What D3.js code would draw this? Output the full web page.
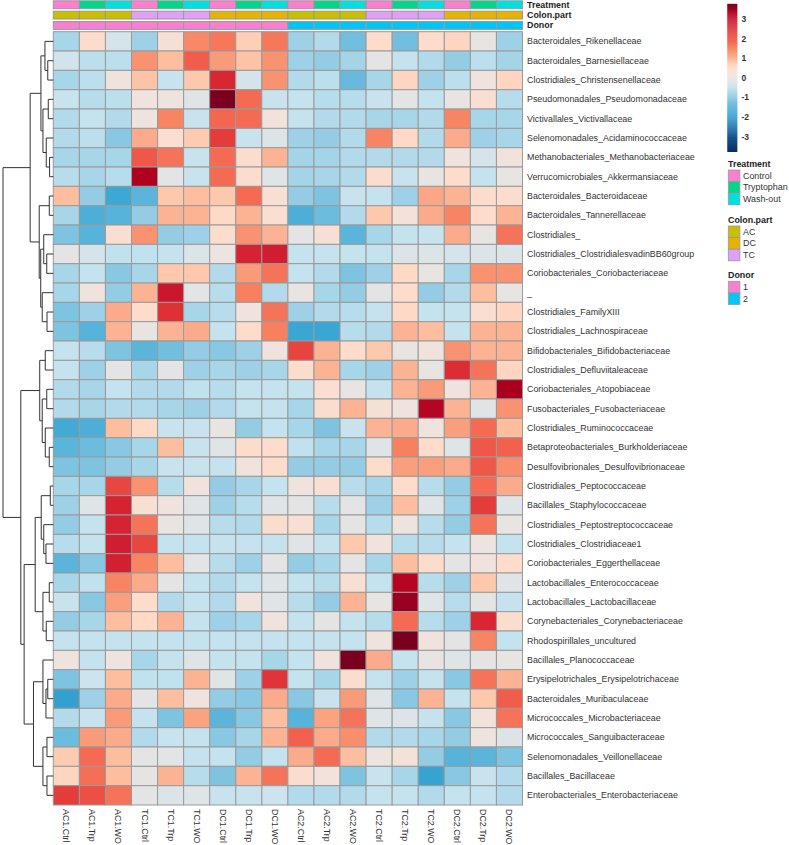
<!DOCTYPE html>
<html>
<head>
<meta charset="utf-8">
<script src="https://cdn.jsdelivr.net/npm/d3@7"></script>
<style>
  html, body { margin: 0; padding: 0; background: #fff; }
  svg { display: block; }
  text { font-family: "Liberation Sans", Arial, Helvetica, sans-serif; fill: #333; }
</style>
</head>
<body>
<svg id="chart" width="789" height="845"></svg>
<script>
// ---------------- DATA ----------------
const columns = ["AC1.Ctrl","AC1.Trp","AC1.WO","TC1.Ctrl","TC1.Trp","TC1.WO","DC1.Ctrl","DC1.Trp","DC1.WO",
                 "AC2.Ctrl","AC2.Trp","AC2.WO","TC2.Ctrl","TC2.Trp","TC2.WO","DC2.Ctrl","DC2.Trp","DC2.WO"];
const treatment = ["Control","Tryptophan","Wash-out","Control","Tryptophan","Wash-out","Control","Tryptophan","Wash-out",
                   "Control","Tryptophan","Wash-out","Control","Tryptophan","Wash-out","Control","Tryptophan","Wash-out"];
const colonPart = ["AC","AC","AC","TC","TC","TC","DC","DC","DC","AC","AC","AC","TC","TC","TC","DC","DC","DC"];
const donor = ["1","1","1","1","1","1","1","1","1","2","2","2","2","2","2","2","2","2"];

const rows = [
  "Bacteroidales_Rikenellaceae","Bacteroidales_Barnesiellaceae","Clostridiales_Christensenellaceae",
  "Pseudomonadales_Pseudomonadaceae","Victivallales_Victivallaceae","Selenomonadales_Acidaminococcaceae",
  "Methanobacteriales_Methanobacteriaceae","Verrucomicrobiales_Akkermansiaceae","Bacteroidales_Bacteroidaceae",
  "Bacteroidales_Tannerellaceae","Clostridiales_","Clostridiales_ClostridialesvadinBB60group",
  "Coriobacteriales_Coriobacteriaceae","_","Clostridiales_FamilyXIII","Clostridiales_Lachnospiraceae",
  "Bifidobacteriales_Bifidobacteriaceae","Clostridiales_Defluviitaleaceae","Coriobacteriales_Atopobiaceae",
  "Fusobacteriales_Fusobacteriaceae","Clostridiales_Ruminococcaceae","Betaproteobacteriales_Burkholderiaceae",
  "Desulfovibrionales_Desulfovibrionaceae","Clostridiales_Peptococcaceae","Bacillales_Staphylococcaceae",
  "Clostridiales_Peptostreptococcaceae","Clostridiales_Clostridiaceae1","Coriobacteriales_Eggerthellaceae",
  "Lactobacillales_Enterococcaceae","Lactobacillales_Lactobacillaceae","Corynebacteriales_Corynebacteriaceae",
  "Rhodospirillales_uncultured","Bacillales_Planococcaceae","Erysipelotrichales_Erysipelotrichaceae",
  "Bacteroidales_Muribaculaceae","Micrococcales_Microbacteriaceae","Micrococcales_Sanguibacteraceae",
  "Selenomonadales_Veillonellaceae","Bacillales_Bacillaceae","Enterobacteriales_Enterobacteriaceae"
];

// z-scores, one row per taxon, columns in the order above
const values = [
  [-0.8, 0.5,-0.3,-0.9, 0.3, 1.5, 1.7, 0.7, 1.7,  -0.9,-0.7,-1.3, 0.5,-1.3, 0.5, 0.6, 0.0,-0.9],
  [-0.35,-0.6,-0.6, 1.4, 0.9, 2.0, 1.3, 0.85,1.4, -0.9,-1.0,-0.85,-0.05,-0.5,-0.7,-1.0,-0.6,-0.85],
  [-0.8,-0.6, 0.15,0.85,-0.45,0.8, 2.7,-0.3, 1.4, -0.7,-0.6,-1.4,-0.8, 0.6,-0.9,-0.6, 0.15,0.6],
  [-0.45,-0.65,-0.6,0.15,0.1,-0.15,3.77,1.85,-0.45, -0.5,-0.65,-0.65,-0.45,-0.05,-0.5,0.0,0.4,-0.65],
  [-0.7,-0.5,-0.7, 0.15,1.55,-0.45,1.9, 1.85,0.2, -0.5,-0.7,-0.7,-0.8,-0.8,-0.7, 1.55,-0.8,-0.8],
  [-0.7,-0.6,-1.1, 1.1, 0.4, 0.75,2.4,-0.45,-0.2, -0.9,-1.0,-0.7, 1.55,0.55,-0.7, 1.1,-0.9,-0.8],
  [-0.8,-0.8,-0.8, 2.05,1.75,-0.45,1.85,0.45,1.0, -0.85,-0.85,-0.7,-0.7,-0.7,-0.7, 0.15,-0.3,0.2],
  [-0.65,-0.8,-0.65,3.4,-0.1,-0.45,1.85,0.45,-0.15, -0.85,-0.8,-0.7, 0.45,-0.45,0.0, 0.5,-0.5,0.0],
  [0.9,-1.0,-1.8,-1.5, 0.8, 0.9, 0.8, 1.85,0.35, -1.0,-1.2,-0.45,-0.5,-0.9, 1.15,1.0, 0.45,0.45],
  [-0.8,-1.65,-1.55,-1.0,1.0,1.0, 0.55,1.0, 0.4, -1.65,-1.35,-0.7,0.8, 0.25,1.1, 1.55,0.5, 1.0],
  [-1.2,-1.55,0.4, 1.4,-1.0,-0.9, 0.45,1.4, 1.0, -0.05,0.3,-1.5,-0.8,-0.5,-0.45, 1.1, 0.0, 1.75],
  [-0.05,-0.3,-0.55,-0.55,-0.5,-0.2,0.1,2.75,2.85, -0.5,-0.5,-0.5,-0.5,-0.2,-0.2,-0.3,-0.2,-0.2],
  [-0.8,-0.5,-1.1,-0.8, 0.8, 0.8,-0.7, 1.3, 1.75, -0.5,-0.7,-1.2,-0.9, 0.55,0.0,-0.8, 1.4, 1.4],
  [-0.8, 0.15,-1.0,1.0, 2.95,-0.1,-0.65,1.6,-0.7, 0.0,-0.8,-1.0,-0.05,0.5,-1.0,-0.7, 0.9, 0.0],
  [-1.2,-0.9, 1.1, 0.5, 2.55,-0.8,-0.65,0.15,1.75, -0.9,-0.7,-0.65,-0.5,0.55,-0.5,-0.5,0.4, 0.6],
  [-1.2,-1.55,1.0, 0.0, 1.0, 1.1,-0.5, 0.5, 1.6, -1.85,-1.85,-0.65,-0.7,1.0,0.9,-0.5, 1.0, 1.0],
  [-0.5,-0.65,-1.2,-1.5,-1.3,-1.0,-1.1,-0.9,0.15, 2.3, 1.0, 0.5, 0.8, 0.0, 0.15,1.4, 1.0, 1.0],
  [-0.5,-0.9,-0.05,-0.8,-0.1,-0.9,-0.8,-0.9,-0.8, 0.45,1.0,-0.8,-0.9, 1.0, 0.0, 2.6, 1.75,0.6],
  [-0.7,-0.8,-0.5,-0.7,-0.7,-0.55,-0.65,-0.5,-0.5, -0.5,0.4, 0.0,-0.5, 1.0, 1.3, 0.15,1.0, 3.45],
  [-0.7,-0.8,-0.7,-0.7,-0.8,-0.9,-0.7,-0.5,-0.5, -0.8,0.45,1.0, 0.3, 0.15,3.3, 1.0,-0.15,1.4],
  [-1.75,-1.65,0.9,0.55,-0.45,-0.45,0.0,-1.0,-0.5, -0.8,-1.2,-0.45,1.0, 1.1, 0.15,1.25,1.85,0.9],
  [-1.5,-1.35,-1.1,-0.8,0.9,-0.45,-0.15,0.5, 0.5, -0.55,-0.8,-0.8,-0.15,1.6,0.5,-0.15,2.05,1.95],
  [-1.2,-1.2,-1.0,-0.8,-0.45,-0.45,-0.5,0.15,0.5, -1.0,-1.0,-1.0, 0.5, 1.25,1.25,1.1, 2.05,1.45],
  [-0.8,-0.8, 2.25,1.4,-0.65,0.15,-1.0,-0.8,-0.5, 0.15,0.35,-0.65,-0.8,0.5,-0.65,-1.0, 1.85,1.1],
  [-0.9,-0.15,2.75,0.35,0.15,-0.15,-0.9,-0.65,-0.15, -0.05,-0.65,-0.05,-0.9,0.9,-0.15,-0.9,2.4,-0.15],
  [-1.0,-0.5, 2.75,1.75,0.0,-0.15,-0.65,-0.7,0.45, 0.35,-0.8,-0.05,-0.65,0.1,-0.65,-1.0,1.75,0.0],
  [-0.65,-0.5,2.85,2.25,-0.5,-0.5,-0.5,-0.5,-0.5, -0.15,-0.5,0.8, 0.15,-0.65,-0.65,-0.5,0.1,-0.5],
  [-1.5,-1.1, 2.8, 1.55,0.9,-0.1,-0.65,-0.9,-0.05, -1.0,-0.8,-0.05,-0.8,0.9,0.5,-0.05,0.15,0.5],
  [-0.8,-0.55,1.55,1.1,-0.05,-0.5,-0.7,-0.5,-0.15, -0.5,-0.65,0.35,-0.5,3.3,-0.65,-0.9,0.8,-0.15],
  [-0.45,-1.1,1.25,0.5,-0.7,-0.5,-0.7, 0.15,-0.15, -0.65,-1.0,1.0, 0.0, 3.55,-0.15,-0.65,-0.05,-0.5],
  [-1.0,-0.8, 0.9, 0.55,1.0,-0.5,-0.9,-0.8, 0.15, -0.5,-0.05,-0.5,-0.65,1.85,-0.65,-0.9,2.7,0.45],
  [-0.5,-0.5,-0.5,-0.5,-0.5,-0.5,-0.5,-0.5,-0.5, -0.5,-0.5,-0.5, 0.15,3.77,0.15,-0.05,1.55,-0.5],
  [0.15,-0.5, 0.1,-0.8,-0.5,-0.15,-0.5,-0.5,-0.8, -0.5,0.15,3.77, 1.1,-0.5, 0.0,-0.15,-0.05,0.0],
  [-1.2,-0.4, 0.9,-0.55,-0.55,1.0,-0.15,-0.9,2.5, -0.5,-0.8,0.45,-0.5,-0.9,-0.5,-1.1,1.75,1.0],
  [-1.95,-0.9,1.1,-0.05,0.9, 0.15,-1.0,-1.1,1.1, -1.1,-0.45,1.3,-0.15,-1.1,1.0,-0.5, 0.8, 2.0],
  [-0.7,-0.45,1.3,-0.5,-1.2, 1.2,-1.5,-1.1, 0.9, -1.55,1.2, 1.75,-0.15,-0.2,-0.5,-1.1,0.2, 1.75],
  [-1.35,1.3, 1.1,-0.7,-0.45,-0.5,-1.1,-0.8, 1.0, 1.95,1.1, 1.45,-0.7,-0.7,-0.8,-1.0, 0.1,-0.2],
  [0.75,1.85, 0.9,-0.05,-0.1,-0.5,-0.5,-1.0,-0.5, 1.1, 1.85,0.9, 0.1, 0.25,-1.0,-1.55,-1.5,-1.2],
  [0.6, 1.8, 0.9,-0.05,1.0,-0.65,-1.2, 1.0, 1.75, 0.45,0.2,-1.2,-0.45,-0.8,-1.9,-1.1,-0.45,-0.7],
  [2.4, 2.15,1.75,-0.05,-0.2,-0.15,-0.45,-0.45,-0.4, -0.7,-0.7,-0.7,-0.5,-0.5,-0.7,-0.5,-0.5,-0.7]
];

// row dendrogram: [mergeHeight, left, right]; leaves are row indices
const rowTree =
  [10,
    [4.6,
      [2.46, [1.66, 0, [1.1, 1, 2]], [2.06, [1.0, 3, 4], [1.4, 5, [0.74, 6, 7]]]],
      [2.8, [0.8, 8, 9], [2.5, [1.9, 10, [1.3, 11, 12]], [2.2, 13, [1.25, 14, 15]]]]
    ],
    [6.46,
      [2.7, [1.6, 16, 17], [2.2, [1.3, 18, 19], [1.6, 20, [0.8, 21, 22]]]],
      [5.8,
        [3.6, [2.4, [0.6, 23, 24], [1.9, 25, [1.46, 26, 27]]], [2.06, [0.8, 28, 29], [1.4, 30, 31]]],
        [3.94, [2.06, 32, [1.46, [1.1, 33, 34], 35]], [2.06, [1.26, 36, 37], [1.26, 38, 39]]]
      ]
    ]
  ];

const treatmentLevels = ["Control","Tryptophan","Wash-out"];
const treatmentColors = ["#FA7FD0","#00D68C","#00E0E0"];
const colonLevels = ["AC","DC","TC"];
const colonColors = ["#C9BF00","#E8B300","#E0A0F8"];
const donorLevels = ["1","2"];
const donorColors = ["#FA7FD0","#00C6F8"];

const legendTicks = [3, 2, 1, 0, -1, -2, -3];
const colorStops = [-3.77,-2.6,-1.9,-1.5,-1.2,-1.0,-0.8,-0.5,-0.2,0,0.2,0.5,0.8,1.0,1.3,1.6,1.9,2.2,2.6,3.0,3.4,3.77];
const colorRange = ["#0A2D5E","#1E6AA8","#35A4D3","#5BB5DB","#7EC3E0","#94CCE4","#A8D6E9","#C5E3EF","#DCE4E8","#E8E4E2",
                    "#F2E2DC","#FDDCCB","#FDC8AC","#FCB394","#F99B78","#F7805F","#F36650","#EA4A42","#DD2C34","#C8142C","#B0001F","#7A0020"];

// ---------------- DRAW ----------------
const svg = d3.select("#chart");
const FONT = 8.9;
const borderCol = "#9a9a9a";

const x = d3.scaleBand().domain(d3.range(columns.length)).range([53.3, 522.5]);
const y = d3.scaleBand().domain(d3.range(rows.length)).range([31.7, 805]);
const color = d3.scaleLinear().domain(colorStops).range(colorRange).clamp(true);

// heatmap cells
const cells = [];
values.forEach((r, i) => r.forEach((v, j) => cells.push({i, j, v})));
svg.append("g").selectAll("rect").data(cells).join("rect")
  .attr("x", d => x(d.j)).attr("y", d => y(d.i))
  .attr("width", x.bandwidth()).attr("height", y.bandwidth())
  .attr("fill", d => color(d.v))
  .attr("stroke", borderCol).attr("stroke-width", 1);

// annotation bars
const annY = d3.scaleBand().domain(["Treatment","Colon.part","Donor"]).range([0.6, 29.6]).paddingInner(0.24).paddingOuter(0.02);
const tScale = d3.scaleOrdinal().domain(treatmentLevels).range(treatmentColors);
const cScale = d3.scaleOrdinal().domain(colonLevels).range(colonColors);
const dScale = d3.scaleOrdinal().domain(donorLevels).range(donorColors);
const annots = [
  {name: "Treatment", vals: treatment, sc: tScale},
  {name: "Colon.part", vals: colonPart, sc: cScale},
  {name: "Donor", vals: donor, sc: dScale}
];
annots.forEach(a => {
  svg.append("g").selectAll("rect").data(a.vals).join("rect")
    .attr("x", (d, j) => x(j)).attr("y", annY(a.name))
    .attr("width", x.bandwidth()).attr("height", annY.bandwidth())
    .attr("fill", d => a.sc(d)).attr("stroke", borderCol).attr("stroke-width", 1);
  svg.append("text").attr("x", 527).attr("y", annY(a.name) + annY.bandwidth() / 2)
    .attr("dominant-baseline", "central").attr("font-size", FONT).attr("font-weight", "bold")
    .style("fill", "#222").text(a.name);
});

// row labels
svg.append("g").selectAll("text").data(rows).join("text")
  .attr("x", 527).attr("y", (d, i) => y(i) + y.bandwidth() / 2)
  .attr("dominant-baseline", "central").attr("font-size", FONT)
  .text(d => d);

// column labels
svg.append("g").selectAll("text").data(columns).join("text")
  .attr("transform", (d, j) => `translate(${x(j) + x.bandwidth() / 2},809) rotate(90)`)
  .attr("dominant-baseline", "central").attr("font-size", FONT)
  .text(d => d);

// dendrogram
const hx = d3.scaleLinear().domain([0, 10]).range([53.3, 3]);
const root = d3.hierarchy(rowTree, d => Array.isArray(d) ? d.slice(1) : null);
root.eachAfter(n => {
  if (n.children) {
    n.py = d3.mean(n.children, c => c.py);
    n.px = hx(n.data[0]);
  } else {
    n.py = y(n.data) + y.bandwidth() / 2;
    n.px = hx(0);
  }
});
const dg = svg.append("g").attr("fill", "none").attr("stroke", "#333").attr("stroke-width", 1);
root.each(n => {
  if (!n.children) return;
  const ys = n.children.map(c => c.py);
  dg.append("line").attr("x1", n.px).attr("x2", n.px).attr("y1", d3.min(ys)).attr("y2", d3.max(ys));
  n.children.forEach(c => {
    dg.append("line").attr("x1", n.px).attr("x2", c.px).attr("y1", c.py).attr("y2", c.py);
  });
});

// colour legend
const ly = d3.scaleLinear().domain([-3.77, 3.77]).range([151.7, 4]);
const steps = d3.range(-3.77, 3.77, 0.05);
svg.append("g").selectAll("rect").data(steps).join("rect")
  .attr("x", 727.3).attr("width", 10)
  .attr("y", d => ly(d + 0.05)).attr("height", d => ly(d) - ly(d + 0.05) + 0.3)
  .attr("fill", d => color(d + 0.025));
svg.append("g").selectAll("text").data(legendTicks).join("text")
  .attr("x", 741.5).attr("y", d => ly(d))
  .attr("dominant-baseline", "central").attr("font-size", 8.5).attr("font-weight", "bold")
  .style("fill", "#333")
  .text(d => d);

// categorical legends
const legends = [
  {title: "Treatment", top: 157.5, levels: treatmentLevels, sc: tScale},
  {title: "Colon.part", top: 213.5, levels: colonLevels, sc: cScale},
  {title: "Donor", top: 268.8, levels: donorLevels, sc: dScale}
];
legends.forEach(L => {
  const g = svg.append("g");
  g.append("text").attr("x", 728).attr("y", L.top + 6).attr("dominant-baseline", "central")
    .attr("font-size", FONT).attr("font-weight", "bold").style("fill", "#222").text(L.title);
  const sy = d3.scaleBand().domain(L.levels).range([L.top + 12.5, L.top + 12.5 + 11.6 * L.levels.length]);
  g.selectAll("rect").data(L.levels).join("rect")
    .attr("x", 728.3).attr("y", d => sy(d)).attr("width", 11.6).attr("height", sy.bandwidth())
    .attr("fill", d => L.sc(d)).attr("stroke", borderCol).attr("stroke-width", 0.8);
  g.selectAll("text.lab").data(L.levels).join("text").attr("class", "lab")
    .attr("x", 743).attr("y", d => sy(d) + sy.bandwidth() / 2)
    .attr("dominant-baseline", "central").attr("font-size", FONT).text(d => d);
});
</script>
</body>
</html>
